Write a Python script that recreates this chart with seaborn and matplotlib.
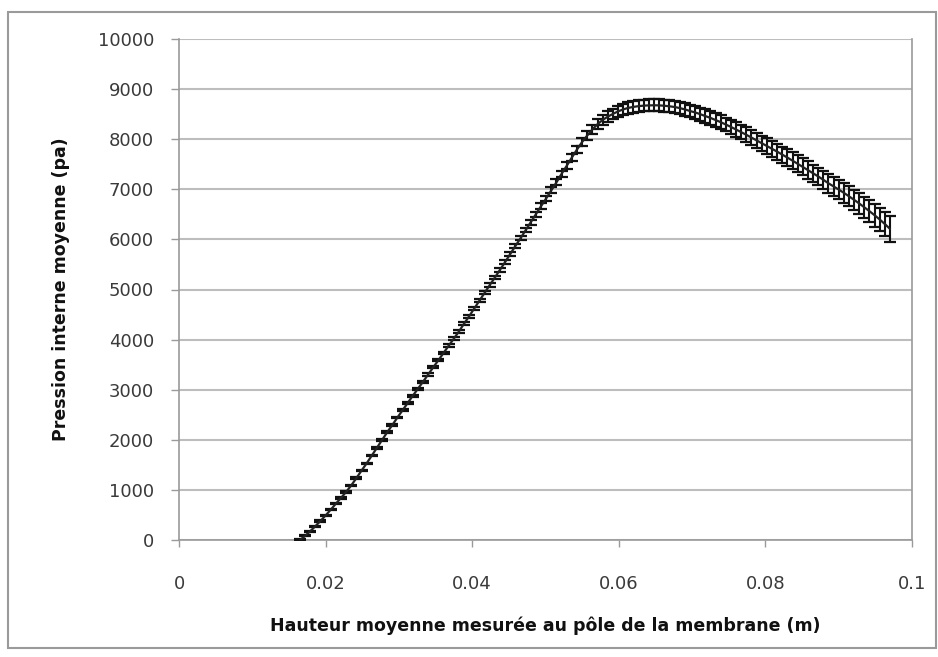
import matplotlib
matplotlib.use("Agg")
import matplotlib.pyplot as plt
import seaborn as sns
import pandas as pd
from matplotlib.patches import Rectangle

# mean height at membrane pole (m)
hauteur = [0.0165, 0.0172, 0.0179, 0.0186, 0.0193, 0.0200, 0.0207, 0.0214, 0.0221, 0.0228,
           0.0235, 0.0242, 0.0249, 0.0256, 0.0263, 0.0270, 0.0277, 0.0284, 0.0291, 0.0298,
           0.0305, 0.0312, 0.0319, 0.0326, 0.0333, 0.0340, 0.0347, 0.0354, 0.0361, 0.0368,
           0.0375, 0.0382, 0.0389, 0.0396, 0.0403, 0.0410, 0.0417, 0.0424, 0.0431, 0.0438,
           0.0445, 0.0452, 0.0459, 0.0466, 0.0473, 0.0480, 0.0487, 0.0494, 0.0501, 0.0508,
           0.0515, 0.0522, 0.0529, 0.0536, 0.0543, 0.0550, 0.0557, 0.0564, 0.0571, 0.0578,
           0.0585, 0.0592, 0.0599, 0.0606, 0.0613, 0.0620, 0.0627, 0.0634, 0.0641, 0.0648,
           0.0655, 0.0662, 0.0669, 0.0676, 0.0683, 0.0690, 0.0697, 0.0704, 0.0711, 0.0718,
           0.0725, 0.0732, 0.0739, 0.0746, 0.0753, 0.0760, 0.0767, 0.0774, 0.0781, 0.0788,
           0.0795, 0.0802, 0.0809, 0.0816, 0.0823, 0.0830, 0.0837, 0.0844, 0.0851, 0.0858,
           0.0865, 0.0872, 0.0879, 0.0886, 0.0893, 0.0900, 0.0907, 0.0914, 0.0921, 0.0928,
           0.0935, 0.0942, 0.0949, 0.0956, 0.0963, 0.0970]

# mean internal pressure (pa)
pression = [0, 80, 175, 275, 380, 490, 605, 725, 840, 960,
            1090, 1235, 1385, 1530, 1685, 1840, 1995, 2150, 2295, 2445,
            2590, 2735, 2880, 3020, 3160, 3305, 3450, 3590, 3735, 3880,
            4020, 4165, 4320, 4470, 4625, 4780, 4935, 5090, 5240, 5395,
            5550, 5710, 5870, 6025, 6185, 6345, 6505, 6665, 6820, 6980,
            7140, 7310, 7470, 7635, 7795, 7945, 8075, 8195, 8300, 8385,
            8450, 8505, 8555, 8595, 8625, 8645, 8660, 8670, 8675, 8677,
            8675, 8668, 8657, 8643, 8622, 8595, 8563, 8535, 8500, 8462,
            8425, 8383, 8340, 8293, 8245, 8193, 8140, 8088, 8032, 7976,
            7920, 7864, 7808, 7752, 7692, 7633, 7572, 7509, 7446, 7383,
            7320, 7257, 7190, 7120, 7058, 6995, 6930, 6860, 6790, 6717,
            6640, 6563, 6482, 6397, 6306, 6210]

# standard deviation of pressure (pa)
ecart = [10, 10, 11, 11, 12, 12, 13, 13, 14, 14,
         15, 15, 16, 16, 17, 17, 18, 18, 19, 19,
         20, 20, 21, 21, 22, 22, 23, 24, 25, 26,
         27, 28, 29, 30, 31, 32, 33, 34, 35, 36,
         38, 40, 42, 44, 46, 48, 50, 52, 54, 57,
         60, 64, 68, 72, 77, 82, 87, 92, 97, 101,
         104, 107, 110, 112, 114, 115, 116, 117, 118, 119,
         120, 121, 122, 123, 124, 125, 126, 127, 129, 131,
         133, 135, 137, 139, 141, 143, 145, 147, 149, 151,
         153, 155, 157, 159, 161, 163, 165, 167, 169, 172,
         175, 178, 181, 184, 188, 192, 196, 200, 205, 210,
         216, 222, 229, 237, 246, 258]

x_ticks = [0, 0.02, 0.04, 0.06, 0.08, 0.1]
x_ticklabels = ["0", "0.02", "0.04", "0.06", "0.08", "0.1"]
y_ticks = [0, 1000, 2000, 3000, 4000, 5000, 6000, 7000, 8000, 9000, 10000]

df = pd.DataFrame({"hauteur": hauteur, "pression": pression, "ecart": ecart})

sns.set_style("white")
plt.rcParams["font.family"] = ["DejaVu Sans"]

fig = plt.figure(figsize=(9.38, 6.57), dpi=100)
ax = fig.add_axes([179 / 938, 1 - 540 / 657, 733 / 938, 501 / 657])

# outer chart frame
fig.patches.append(Rectangle((8 / 938, 1 - 648 / 657), 928 / 938, 636 / 657,
                             transform=fig.transFigure, fill=False,
                             edgecolor="#9a9a9a", linewidth=1.5, zorder=0))

ax.errorbar(df["hauteur"], df["pression"], yerr=df["ecart"], fmt="none",
            ecolor="#111111", elinewidth=1.5, capsize=4, capthick=1.6, zorder=3)
sns.lineplot(data=df, x="hauteur", y="pression", ax=ax, color="#222222",
             linewidth=1.6, zorder=4)

ax.set_xlim(0, 0.1)
ax.set_ylim(0, 10000)
ax.set_xticks(x_ticks)
ax.set_xticklabels(x_ticklabels)
ax.set_yticks(y_ticks)
ax.yaxis.grid(True, color="#bdbdbd", linewidth=1.5)
ax.xaxis.grid(False)
ax.set_axisbelow(True)

for s in ax.spines.values():
    s.set_color("#9a9a9a")
    s.set_linewidth(1.2)
ax.spines["top"].set_visible(False)

ax.tick_params(axis="y", which="both", left=True, length=6, width=1,
               color="#9a9a9a", pad=12, labelsize=13, labelcolor="#3a3a3a")
ax.tick_params(axis="x", which="both", bottom=True, length=5, width=1,
               color="#9a9a9a", pad=20, labelsize=13, labelcolor="#3a3a3a")

ax.set_xlabel("Hauteur moyenne mesurée au pôle de la membrane (m)",
              fontsize=12.5, fontweight="bold", labelpad=17, color="#111111")
ax.set_ylabel("Pression interne moyenne (pa)", fontsize=12.5,
              fontweight="bold", labelpad=20, color="#111111")

fig.savefig("out.png", dpi=100)
